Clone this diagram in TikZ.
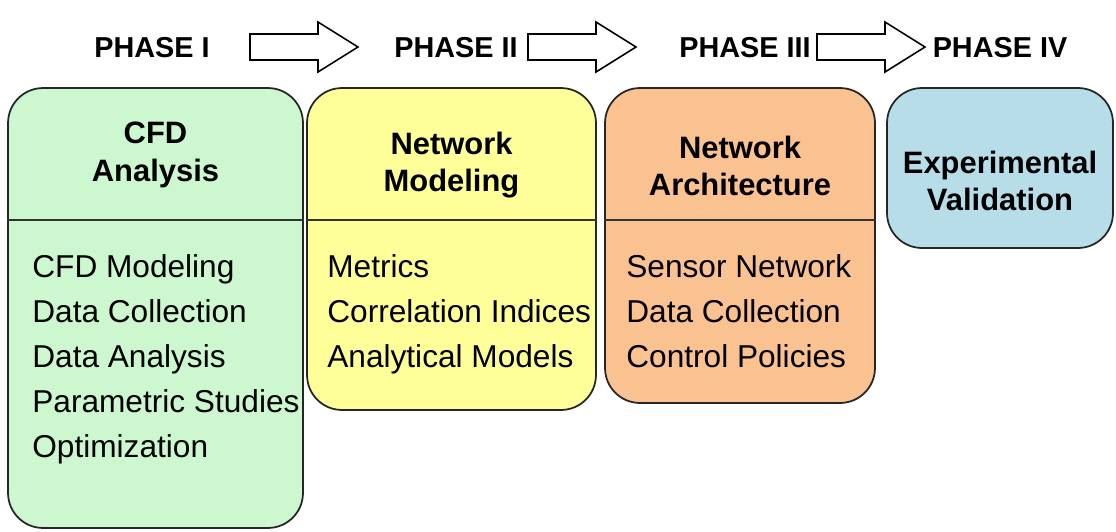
\documentclass[tikz,border=0pt]{standalone}
\usepackage{fontspec}
\setmainfont{Liberation Sans}
\usepackage{xcolor}

\definecolor{cfdgreen}{RGB}{204,247,207}
\definecolor{netyellow}{RGB}{255,255,153}
\definecolor{archorange}{RGB}{250,193,145}
\definecolor{expblue}{RGB}{183,222,232}

\tikzset{
  phasebox/.style={draw=black!85, line width=1pt, rounded corners=0.7cm, inner sep=0pt},
  divider/.style={draw=black!80, line width=0.8pt},
  phaselabel/.style={font=\bfseries\fontsize{16.4}{19}\selectfont, anchor=base, inner sep=0pt},
  boxtitle/.style={font=\bfseries\fontsize{17.6}{21.5}\selectfont, align=center, inner sep=0pt},
  boxitem/.style={font=\fontsize{18}{21}\selectfont, anchor=base west, inner sep=0pt},
  blockarrow/.style={draw=black, line width=0.9pt, fill=white, line join=miter},
}

\begin{document}
\begin{tikzpicture}[x=0.02cm, y=-0.02cm]
\useasboundingbox (0,0) rectangle (1116,531);

% phase headings
\node[phaselabel] (ph1) at (152,57) {PHASE I};
\node[phaselabel] (ph2) at (456,57) {PHASE II};
\node[phaselabel] (ph3) at (745,57) {PHASE III};
\node[phaselabel] (ph4) at (1000,57) {PHASE IV};

% block arrows between the headings
\coordinate (ar1) at (250,34);
\coordinate (ar2) at (528,34);
\coordinate (ar3) at (817,34);
\draw[blockarrow] (ar1) -- ++(68,0) -- ++(0,-12) -- ++(40,25) -- ++(-40,25) -- ++(0,-12) -- ++(-68,0) -- cycle;
\draw[blockarrow] (ar2) -- ++(68,0) -- ++(0,-12) -- ++(40,25) -- ++(-40,25) -- ++(0,-12) -- ++(-68,0) -- cycle;
\draw[blockarrow] (ar3) -- ++(68,0) -- ++(0,-12) -- ++(40,25) -- ++(-40,25) -- ++(0,-12) -- ++(-68,0) -- cycle;

% boxes
\node[phasebox, fill=cfdgreen, minimum width=5.9cm, minimum height=8.8cm] (cfd) at (155.5,308) {};
\node[phasebox, fill=netyellow, minimum width=5.78cm, minimum height=6.44cm] (netmod) at (451.5,249) {};
\node[phasebox, fill=archorange, minimum width=5.4cm, minimum height=6.3cm] (netarch) at (740,245.5) {};
\node[phasebox, fill=expblue, minimum width=4.52cm, minimum height=3.2cm] (expval) at (1000,168) {};

\draw[divider] (cfd.west |- 0,220) -- (cfd.east |- 0,220);
\draw[divider] (netmod.west |- 0,220) -- (netmod.east |- 0,220);
\draw[divider] (netarch.west |- 0,220) -- (netarch.east |- 0,220);

% titles
\node[boxtitle] (cfdtitle) at (155.5,155) {CFD\\Analysis};
\node[boxtitle] (netmodtitle) at (451.5,165) {Network\\Modeling};
\node[boxtitle] (netarchtitle) at (740,166) {Network\\Architecture};
\node[boxtitle] (expvaltitle) at (1000,181) {Experimental\\Validation};

% item lists
\foreach \txt [count=\i from 0] in {CFD Modeling, Data Collection, Data Analysis, Parametric Studies, Optimization}
  \node[boxitem] (cfd\i) at (32,277+45*\i) {\txt};
\foreach \txt [count=\i from 0] in {Metrics, Correlation Indices, Analytical Models}
  \node[boxitem] (netmod\i) at (327,277+45*\i) {\txt};
\foreach \txt [count=\i from 0] in {Sensor Network, Data Collection, Control Policies}
  \node[boxitem] (netarch\i) at (626,277+45*\i) {\txt};

\end{tikzpicture}
\end{document}
